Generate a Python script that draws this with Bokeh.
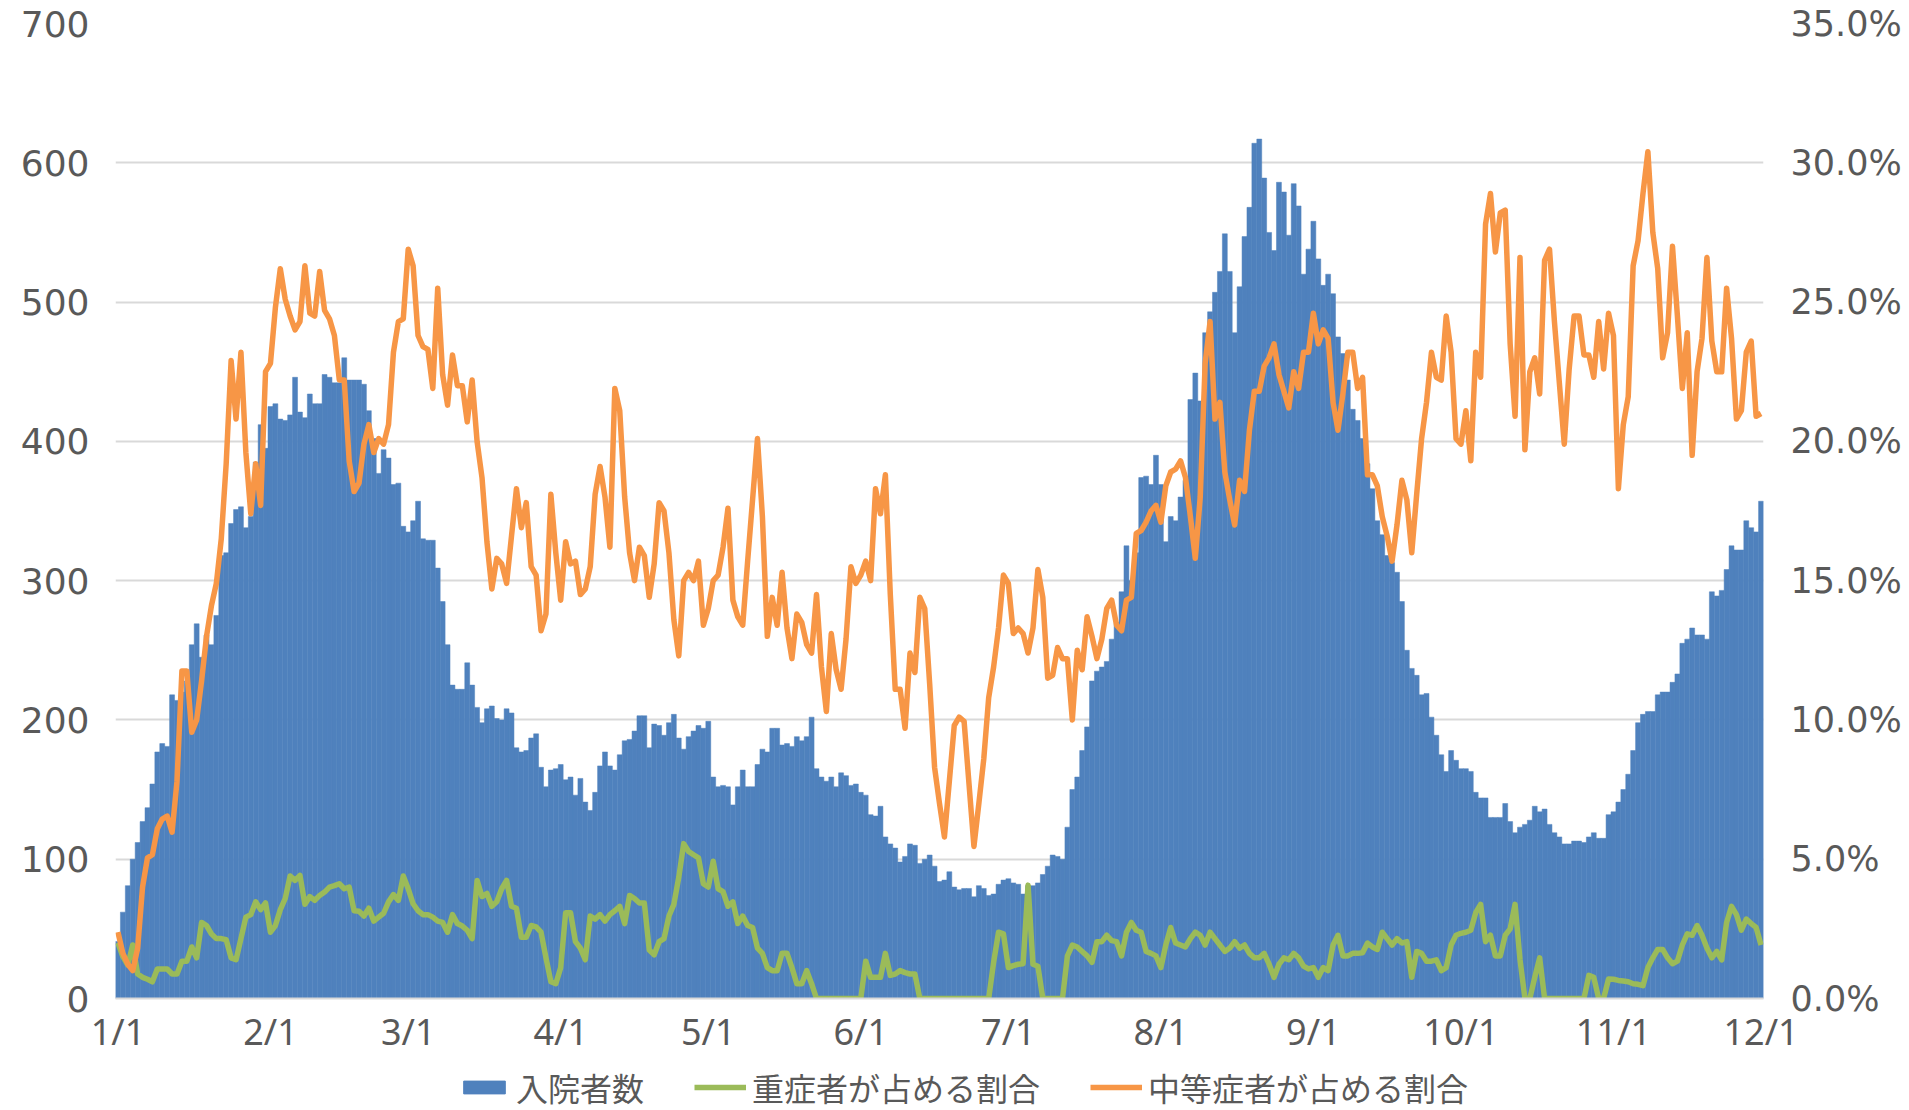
import numpy as np
from bokeh.plotting import figure
from bokeh.layouts import column
from bokeh.models import (Range1d, LinearAxis, FixedTicker, NumeralTickFormatter,
                          Legend, LegendItem, ColumnDataSource)
from bokeh.embed import file_html
from bokeh.resources import INLINE

# ---------------- data ----------------
month_days = [31, 28, 31, 30, 31, 30, 31, 31, 30, 31, 30]
tick_labels = ["1/1", "2/1", "3/1", "4/1", "5/1", "6/1", "7/1", "8/1",
               "9/1", "10/1", "11/1", "12/1"]
series_names = ["入院者数", "重症者が占める割合", "中等症者が占める割合"]

# 入院者数 (daily, 1/1 .. 12/1)
inpatients = [
    41, 62, 81, 100, 112, 127, 137, 154, 177, 183,
    181, 218, 214, 220, 228, 254, 269, 245, 261, 254,
    275, 318, 320, 341, 351, 353, 338, 346, 385, 412,
    395, 425, 427, 416, 415, 419, 446, 421, 417, 434,
    427, 427, 448, 446, 442, 442, 460, 444, 444, 444,
    441, 422, 402, 377, 394, 388, 369, 370, 339, 335,
    343, 357, 330, 329, 329, 309, 285, 254, 225, 222,
    222, 241, 225, 209, 198, 208, 210, 201, 200, 208,
    205, 180, 177, 178, 187, 190, 166, 152, 164, 165,
    168, 157, 159, 146, 158, 141, 135, 148, 167, 177,
    167, 164, 175, 185, 186, 192, 203, 203, 180, 197,
    196, 189, 198, 204, 187, 179, 188, 192, 196, 194,
    199, 159, 152, 153, 152, 139, 152, 164, 152, 152,
    168, 179, 177, 194, 194, 182, 183, 181, 188, 185,
    188, 202, 165, 159, 156, 159, 152, 162, 160, 153,
    154, 148, 146, 132, 131, 138, 116, 111, 108, 98,
    102, 111, 110, 97, 100, 103, 95, 84, 85, 91,
    80, 78, 79, 79, 73, 81, 79, 74, 75, 82,
    85, 86, 83, 82, 75, 81, 81, 83, 89, 95,
    103, 102, 100, 123, 150, 159, 178, 195, 228, 235,
    238, 242, 258, 270, 292, 325, 300, 320, 374, 375,
    369, 390, 369, 328, 346, 343, 360, 372, 430, 449,
    429, 478, 493, 507, 522, 549, 522, 478, 511, 547,
    568, 614, 617, 589, 550, 537, 586, 579, 548, 585,
    569, 520, 538, 558, 531, 512, 520, 506, 475, 463,
    444, 423, 415, 402, 384, 366, 343, 333, 318, 313,
    306, 285, 250, 237, 232, 218, 219, 202, 189, 175,
    163, 178, 171, 165, 165, 163, 148, 144, 144, 130,
    130, 130, 140, 127, 119, 123, 125, 128, 138, 134,
    136, 125, 119, 116, 111, 111, 113, 113, 112, 116,
    119, 115, 115, 132, 134, 141, 150, 161, 178, 198,
    204, 206, 206, 218, 220, 220, 227, 233, 255, 258,
    266, 261, 261, 258, 292, 289, 293, 308, 325, 322,
    322, 343, 338, 335, 357,
]

# 重症者が占める割合 (%)
severe_pct = [
    2.0, 1.5, 1.2, 1.92, 0.88, 0.76, 0.69, 0.60, 1.06, 1.06,
    1.06, 0.88, 0.88, 1.34, 1.34, 1.85, 1.46, 2.73, 2.62, 2.32,
    2.15, 2.15, 2.11, 1.46, 1.39, 2.15, 2.92, 3.01, 3.47, 3.19,
    3.43, 2.38, 2.62, 3.19, 3.59, 4.40, 4.24, 4.42, 3.38, 3.66,
    3.52, 3.70, 3.82, 4.00, 4.05, 4.12, 3.94, 4.00, 3.15, 3.13,
    2.96, 3.24, 2.78, 2.92, 3.06, 3.47, 3.73, 3.52, 4.40, 3.94,
    3.40, 3.15, 3.01, 3.01, 2.92, 2.78, 2.73, 2.38, 3.01, 2.69,
    2.60, 2.45, 2.15, 4.24, 3.66, 3.77, 3.31, 3.47, 3.94, 4.24,
    3.31, 3.24, 2.20, 2.20, 2.62, 2.57, 2.38, 1.46, 0.60, 0.53,
    1.11, 3.08, 3.08, 2.04, 1.81, 1.39, 2.96, 2.85, 3.01, 2.78,
    3.01, 3.15, 3.31, 2.69, 3.70, 3.59, 3.43, 3.43, 1.74, 1.57,
    2.04, 2.15, 2.96, 3.38, 4.35, 5.56, 5.28, 5.16, 5.05, 4.12,
    4.00, 4.93, 3.94, 3.84, 3.31, 3.47, 2.69, 2.96, 2.62, 2.55,
    1.81, 1.62, 1.11, 1.00, 1.00, 1.62, 1.62, 1.11, 0.53, 0.53,
    1.00, 0.53, 0, 0, 0, 0, 0, 0, 0, 0,
    0, 0, 1.34, 0.76, 0.76, 0.76, 1.62, 0.83, 0.88, 1.00,
    0.93, 0.88, 0.88, 0, 0, 0, 0, 0, 0, 0,
    0, 0, 0, 0, 0, 0, 0, 0, 1.30, 2.38,
    2.32, 1.11, 1.18, 1.23, 1.25, 4.07, 1.23, 1.16, 0, 0,
    0, 0, 0, 1.53, 1.92, 1.85, 1.69, 1.53, 1.30, 2.04,
    2.04, 2.27, 2.08, 2.04, 1.53, 2.38, 2.73, 2.45, 2.38, 1.69,
    1.62, 1.53, 1.11, 1.92, 2.55, 1.99, 1.92, 1.85, 2.15, 2.38,
    2.27, 1.92, 2.38, 2.15, 1.92, 1.69, 1.81, 2.04, 1.81, 1.92,
    1.62, 1.46, 1.46, 1.62, 1.23, 0.76, 1.23, 1.46, 1.39, 1.62,
    1.46, 1.16, 1.06, 1.11, 0.76, 1.11, 1.00, 1.92, 2.27, 1.53,
    1.53, 1.62, 1.62, 1.64, 1.99, 1.85, 1.76, 2.38, 2.15, 1.92,
    2.15, 1.99, 2.04, 0.76, 1.69, 1.62, 1.34, 1.34, 1.39, 1.00,
    1.11, 1.92, 2.27, 2.34, 2.38, 2.45, 3.08, 3.38, 2.04, 2.27,
    1.53, 1.53, 2.27, 2.50, 3.38, 1.40, 0, 0, 0.76, 1.46,
    0, 0, 0, 0, 0, 0, 0, 0, 0, 0.83,
    0.76, 0, 0, 0.70, 0.69, 0.65, 0.63, 0.60, 0.53, 0.51,
    0.46, 1.11, 1.46, 1.76, 1.76, 1.46, 1.25, 1.34, 1.92, 2.32,
    2.27, 2.62, 2.27, 1.81, 1.46, 1.69, 1.39, 2.73, 3.31, 3.01,
    2.45, 2.85, 2.69, 2.55, 1.92,
]

# 中等症者が占める割合 (%)
moderate_pct = [
    2.38, 1.62, 1.23, 1.00, 1.80, 4.00, 5.05, 5.16, 6.09, 6.44,
    6.55, 5.97, 7.80, 11.76, 11.76, 9.56, 10.0, 11.4, 13.0, 14.1,
    14.9, 16.5, 19.2, 22.9, 20.8, 23.2, 19.6, 17.4, 19.2, 17.7,
    22.5, 22.8, 24.8, 26.2, 25.1, 24.5, 24.0, 24.3, 26.3, 24.6,
    24.5, 26.1, 24.7, 24.4, 23.8, 22.2, 22.2, 19.3, 18.2, 18.5,
    19.9, 20.6, 19.6, 20.1, 19.9, 20.6, 23.2, 24.3, 24.4, 26.9,
    26.3, 23.8, 23.4, 23.3, 21.9, 25.5, 22.4, 21.3, 23.1, 22.0,
    22.0, 20.7, 22.2, 20.0, 18.7, 16.4, 14.7, 15.8, 15.6, 14.9,
    16.6, 18.3, 16.9, 17.8, 15.5, 15.2, 13.2, 13.8, 18.1, 16.0,
    14.3, 16.4, 15.6, 15.7, 14.5, 14.7, 15.5, 18.1, 19.1, 18.0,
    16.2, 21.9, 21.1, 18.0, 16.0, 15.0, 16.2, 15.9, 14.4, 15.6,
    17.8, 17.5, 16.0, 13.6, 12.3, 15.0, 15.3, 15.0, 15.7, 13.4,
    14.0, 15.0, 15.2, 16.2, 17.6, 14.3, 13.7, 13.4, 15.7, 17.9,
    20.1, 17.3, 13.0, 14.4, 13.4, 15.3, 13.3, 12.2, 13.8, 13.5,
    12.7, 12.4, 14.5, 11.9, 10.3, 13.1, 11.8, 11.1, 12.9, 15.5,
    14.9, 15.2, 15.7, 15.0, 18.3, 17.4, 18.8, 14.5, 11.1, 11.1,
    9.7, 12.4, 11.7, 14.4, 14.0, 11.3, 8.3, 7.0, 5.8, 7.8,
    9.8, 10.1, 9.95, 7.7, 5.46, 7.0, 8.6, 10.8, 11.9, 13.3,
    15.2, 14.9, 13.1, 13.3, 13.1, 12.4, 13.3, 15.4, 14.4, 11.5,
    11.6, 12.6, 12.2, 12.2, 10.0, 12.5, 11.8, 13.7, 13.0, 12.2,
    12.9, 14.0, 14.3, 13.4, 13.2, 14.3, 14.4, 16.7, 16.8, 17.1,
    17.5, 17.7, 17.1, 18.4, 18.9, 19.0, 19.3, 18.7, 17.3, 15.8,
    18.0, 22.8, 24.3, 20.8, 21.4, 18.9, 17.9, 17.0, 18.6, 18.2,
    20.4, 21.8, 21.8, 22.7, 23.0, 23.5, 22.4, 21.8, 21.2, 22.5,
    21.9, 23.2, 23.2, 24.6, 23.5, 24.0, 23.7, 21.4, 20.4, 21.7,
    23.2, 23.2, 21.9, 22.3, 18.8, 18.8, 18.4, 17.3, 16.6, 15.7,
    17.0, 18.6, 17.9, 16.0, 18.1, 20.1, 21.4, 23.2, 22.3, 22.2,
    24.5, 23.2, 20.1, 19.9, 21.1, 19.3, 23.2, 22.3, 27.8, 28.9,
    26.8, 28.2, 28.3, 23.5, 20.9, 26.6, 19.7, 22.5, 23.0, 21.7,
    26.5, 26.9, 24.3, 22.1, 19.9, 22.6, 24.5, 24.5, 23.1, 23.1,
    22.3, 24.3, 22.6, 24.6, 23.8, 18.3, 20.6, 21.6, 26.3, 27.2,
    28.9, 30.4, 27.5, 26.2, 23.0, 23.9, 27.0, 24.5, 21.9, 23.9,
    19.5, 22.5, 23.7, 26.6, 23.6, 22.5, 22.5, 25.5, 23.7, 20.8,
    21.1, 23.2, 23.6, 20.9, 21.0,
]

left_ticks = [0, 100, 200, 300, 400, 500, 600, 700]
right_ticks = [0.0, 0.05, 0.10, 0.15, 0.20, 0.25, 0.30, 0.35]

# ---------------- build ----------------
n = len(inpatients)
days = list(range(n))
tick_pos = [0] + [int(v) for v in np.cumsum(month_days)]

src = ColumnDataSource(dict(
    day=days,
    inp=inpatients,
    sev=[v / 100.0 for v in severe_pct],
    mod=[v / 100.0 for v in moderate_pct],
))

TEXT = "#595959"
GRID = "#D9D9D9"
BLUE, GREEN, ORANGE = "#4F81BD", "#9BBB59", "#F79646"

p = figure(frame_width=1648, frame_height=975,
           min_border_left=115, min_border_right=146,
           min_border_top=23, min_border_bottom=60,
           x_range=Range1d(-0.5, n - 0.5), y_range=Range1d(0, 700),
           output_backend="svg", toolbar_location=None,
           background_fill_color="white", border_fill_color="white")
p.outline_line_color = None
p.extra_y_ranges = {"pct": Range1d(0, 0.35)}

p.vbar(x="day", top="inp", width=1.0, source=src,
       fill_color=BLUE, line_color=BLUE, line_width=0.5)
p.line("day", "sev", source=src, y_range_name="pct",
       line_color=GREEN, line_width=5.5, line_join="round")
p.line("day", "mod", source=src, y_range_name="pct",
       line_color=ORANGE, line_width=5.5, line_join="round")

# left axis
ya = p.yaxis[0]
ya.ticker = FixedTicker(ticks=left_ticks)
ya.axis_line_color = None
ya.major_tick_line_color = None
ya.minor_tick_line_color = None
ya.major_tick_out = 0
ya.major_tick_in = 0
ya.major_label_text_font = "DejaVu Sans"
ya.major_label_text_font_size = "36px"
ya.major_label_text_color = TEXT
ya.major_label_standoff = 26

# right axis
ra = LinearAxis(y_range_name="pct", ticker=FixedTicker(ticks=right_ticks),
                formatter=NumeralTickFormatter(format="0.0%"))
ra.axis_line_color = None
ra.major_tick_line_color = None
ra.minor_tick_line_color = None
ra.major_tick_out = 0
ra.major_tick_in = 0
ra.major_label_text_font = "DejaVu Sans"
ra.major_label_text_font_size = "35px"
ra.major_label_text_color = TEXT
ra.major_label_standoff = 27
p.add_layout(ra, "right")

# x axis
xa = p.xaxis[0]
xa.ticker = FixedTicker(ticks=tick_pos)
xa.major_label_overrides = {pos: lab for pos, lab in zip(tick_pos, tick_labels)}
xa.axis_line_color = GRID
xa.axis_line_width = 2
xa.major_tick_line_color = None
xa.minor_tick_line_color = None
xa.major_tick_out = 0
xa.major_tick_in = 0
xa.major_label_text_font = "Noto Sans"
xa.major_label_text_font_size = "36px"
xa.major_label_text_color = TEXT
xa.major_label_standoff = 8

p.xgrid.visible = False
p.ygrid.ticker = FixedTicker(ticks=left_ticks)
p.ygrid.grid_line_color = GRID
p.ygrid.grid_line_width = 2

# ---------------- legend strip (separate figure under the chart) ----------------
lg = figure(width=1909, height=52, min_border=0,
            x_range=Range1d(0, 1), y_range=Range1d(0, 1),
            x_axis_type=None, y_axis_type=None,
            output_backend="svg", toolbar_location=None,
            background_fill_color="white", border_fill_color="white")
lg.outline_line_color = None
lg.xgrid.visible = False
lg.ygrid.visible = False
nan = float("nan")
key_src = ColumnDataSource(dict(x=[nan], y=[nan]))
r_bar = lg.vbar(x="x", top="y", width=1, source=key_src,
                fill_color=BLUE, line_color=BLUE)
r_sev = lg.line("x", "y", source=key_src, line_color=GREEN, line_width=5.5)
r_mod = lg.line("x", "y", source=key_src, line_color=ORANGE, line_width=5.5)

legend = Legend(items=[
    LegendItem(label=series_names[0], renderers=[r_bar]),
    LegendItem(label=series_names[1], renderers=[r_sev]),
    LegendItem(label=series_names[2], renderers=[r_mod]),
], orientation="horizontal", location=(343, 0))
legend.label_text_font = "Noto Sans CJK JP"
legend.label_text_font_size = "32px"
legend.label_text_line_height = 1.0
legend.label_text_color = TEXT
legend.glyph_width = 52
legend.glyph_height = 16
legend.label_standoff = 6
legend.spacing = 50
legend.padding = 0
legend.margin = 0
legend.border_line_color = None
legend.background_fill_alpha = 0
lg.add_layout(legend, "center")

layout = column(p, lg, spacing=0)
open("out.html", "w").write(file_html(layout, INLINE))
